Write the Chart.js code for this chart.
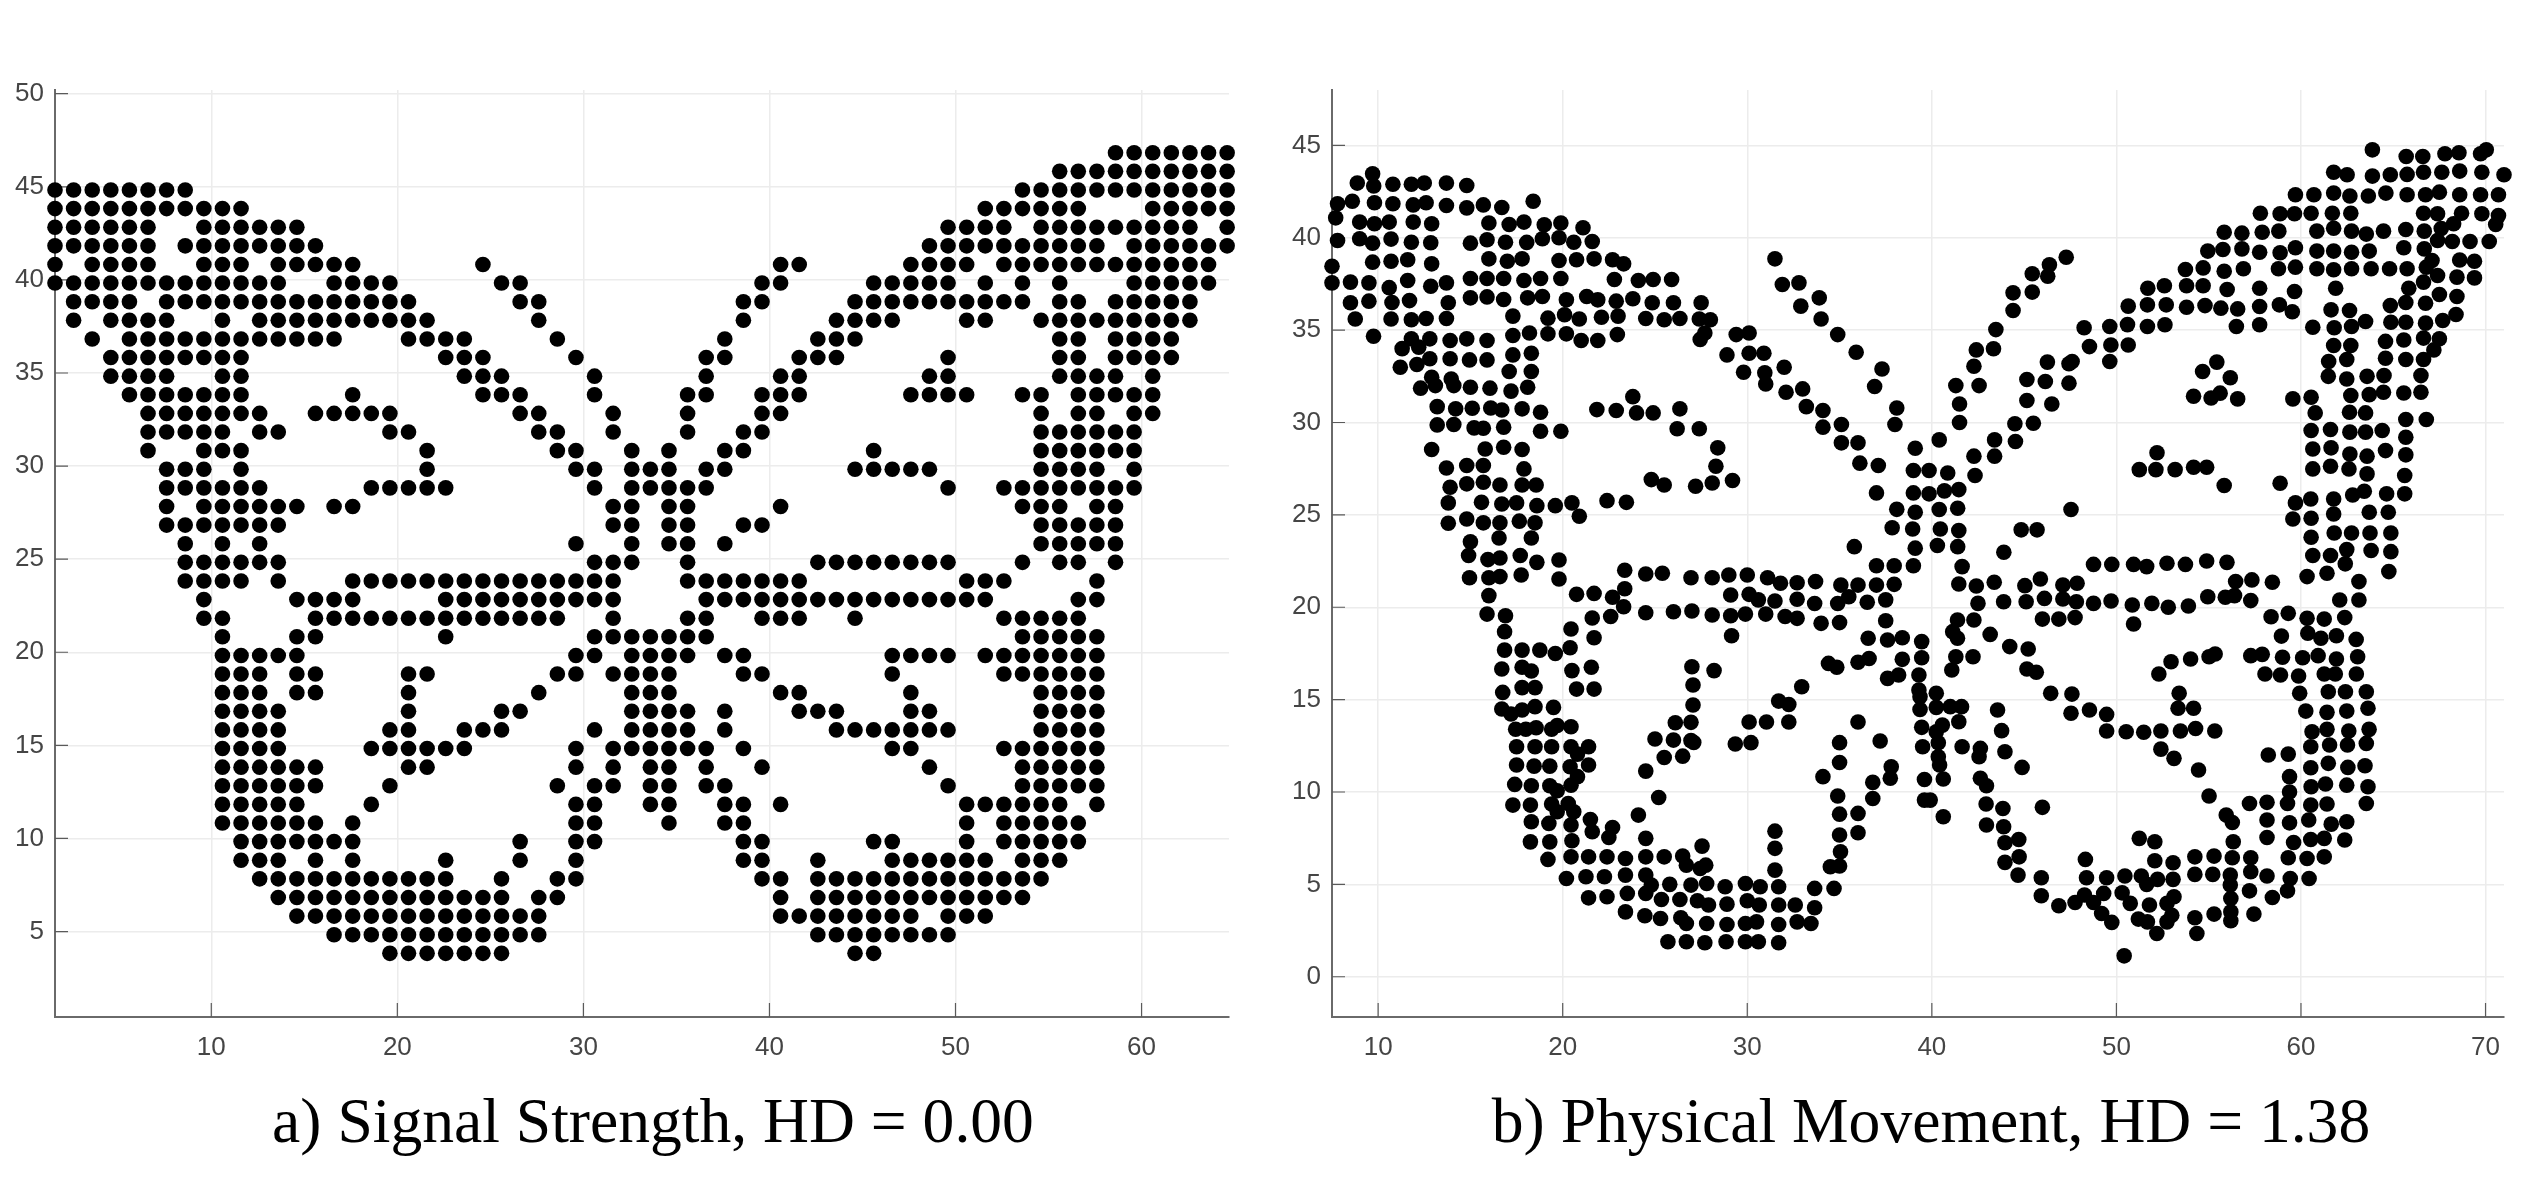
<!DOCTYPE html>
<html>
<head>
<meta charset="utf-8">
<title>Butterfly</title>
<script src="https://cdn.jsdelivr.net/npm/chart.js@4/dist/chart.umd.min.js"></script>
<style>
html, body { margin:0; padding:0; background:#fff; width:2539px; height:1191px; overflow:hidden; }
canvas { position:absolute; top:0; }
.caption { position:absolute; top:1085px; font-family:"Liberation Serif", serif; font-size:63.6px; line-height:72px; color:#000; white-space:nowrap; transform:translateX(-50%); }
</style>
</head>
<body>
<canvas id="leftChart" width="1270" height="1100" style="left:0"></canvas>
<canvas id="rightChart" width="1269" height="1100" style="left:1270px"></canvas>
<div class="caption" style="left:653px">a) Signal Strength, HD = 0.00</div>
<div class="caption" style="left:1931px">b) Physical Movement, HD = 1.38</div>
<script>
const leftXTicks = [10,20,30,40,50,60];
const leftYTicks = [5,10,15,20,25,30,35,40,45,50];
const rightXTicks = [10,20,30,40,50,60,70];
const rightYTicks = [0,5,10,15,20,25,30,35,40,45];

// left panel sits on a grid: row numbers, and filled column runs (from,to,...) per row
const leftRows = [47,46,45,44,43,42,41,40,39,38,37,36,35,34,33,32,31,30,29,28,27,26,25,24,23,22,21,20,19,18,17,16,15,14,13,12,11,10,9,8,7,6,5,4];
const leftRuns = [
  [58,64],
  [55,64],
  [1,8, 53,64],
  [1,11, 51,56, 60,64],
  [1,6, 9,14, 49,52, 54,62, 64,64],
  [1,6, 8,15, 48,57, 59,64],
  [1,1, 3,6, 9,11, 13,17, 24,24, 40,41, 47,50, 52,63],
  [1,13, 16,19, 25,26, 39,40, 45,49, 51,51, 53,53, 55,55, 59,63],
  [2,5, 7,20, 26,27, 38,39, 44,53, 55,56, 58,62],
  [2,2, 4,7, 10,10, 12,21, 27,27, 38,38, 43,46, 50,51, 54,62],
  [3,3, 5,16, 20,23, 28,28, 37,37, 42,44, 55,56, 58,61],
  [4,11, 22,24, 29,29, 36,37, 41,43, 49,49, 55,56, 58,61],
  [4,7, 10,11, 23,25, 30,30, 36,36, 40,41, 48,49, 55,58, 60,60],
  [5,11, 17,17, 24,26, 30,30, 35,36, 39,41, 47,50, 53,54, 56,60],
  [6,12, 15,19, 26,27, 31,31, 35,35, 39,40, 54,54, 56,57, 59,60],
  [6,10, 12,13, 19,20, 27,28, 31,31, 35,35, 38,39, 54,59],
  [6,6, 9,11, 21,21, 28,29, 32,32, 34,34, 37,38, 45,45, 54,59],
  [7,9, 11,11, 21,21, 29,30, 32,34, 36,37, 44,48, 54,57, 59,59],
  [7,12, 18,22, 30,30, 32,36, 49,49, 52,59],
  [7,7, 9,14, 16,17, 31,32, 34,35, 40,40, 53,55, 57,58],
  [7,13, 31,32, 34,35, 38,39, 54,58],
  [8,8, 10,10, 12,12, 29,29, 32,32, 34,35, 37,37, 54,58],
  [8,13, 30,32, 35,35, 42,49, 53,53, 55,56, 58,58],
  [8,11, 13,13, 17,31, 35,41, 50,52, 57,57],
  [9,9, 14,17, 22,31, 36,51, 56,57],
  [9,10, 15,28, 31,31, 35,36, 39,41, 44,44, 52,56],
  [10,10, 14,15, 22,22, 30,36, 53,57],
  [10,14, 29,30, 32,35, 37,38, 46,49, 51,57],
  [10,12, 14,15, 20,21, 28,29, 31,34, 38,39, 46,46, 52,57],
  [10,12, 14,15, 20,20, 27,27, 32,34, 40,41, 47,47, 54,57],
  [10,13, 20,20, 25,26, 32,35, 37,37, 41,43, 47,48, 54,57],
  [10,13, 19,20, 23,25, 30,30, 32,35, 37,37, 43,49, 54,57],
  [10,13, 18,23, 29,29, 31,36, 38,38, 46,47, 52,57],
  [10,15, 20,21, 29,29, 31,31, 33,34, 36,36, 39,39, 48,48, 53,57],
  [10,15, 19,19, 28,28, 30,31, 33,34, 36,37, 49,49, 53,57],
  [10,14, 18,18, 29,30, 33,34, 37,38, 40,40, 50,55, 57,57],
  [10,15, 17,17, 29,30, 34,34, 37,38, 50,50, 52,56],
  [11,17, 26,26, 29,30, 38,39, 45,46, 50,50, 52,56],
  [11,13, 15,15, 17,17, 22,22, 26,26, 29,29, 38,39, 42,42, 46,51, 53,55],
  [12,22, 25,25, 28,29, 39,40, 42,54],
  [13,25, 27,28, 40,40, 42,53],
  [14,27, 40,47, 49,51],
  [16,27, 42,49],
  [19,25, 44,45]
];
// the picture's grid sits slightly off the ticks
const leftColShift = 0.6;
const leftRowShift = -0.17;

// right panel: values
const rightPoints = [
[9.7,43.46],[8.87,42.96],[9.76,42.8],[10.8,42.9],[11.8,42.9],[12.5,42.96],[13.7,42.96],[14.8,42.83],
[7.8,41.84],[8.6,41.98],[9.8,41.9],[10.8,41.84],[11.9,41.78],[12.6,41.9],[13.7,41.75],[14.8,41.62],[15.7,41.78],[16.7,41.64],[18.4,41.98],
[7.7,41.08],[9,40.85],[9.8,40.76],[10.6,40.85],[11.9,40.85],[12.9,40.76],[16,40.8],[17.1,40.72],[17.9,40.85],[19,40.7],[19.9,40.8],[21.1,40.54],
[7.8,39.85],[9,39.95],[9.7,39.71],[10.7,39.93],[11.8,39.76],[12.85,39.73],[15,39.71],[15.9,39.89],[16.9,39.76],[18.05,39.75],[18.9,39.95],[19.8,40],[20.6,39.76],[21.6,39.8],
[7.5,38.46],[9.7,38.68],[10.7,38.73],[11.6,38.81],[12.9,38.59],[16,38.86],[17,38.73],[17.8,38.86],[19.8,38.77],[20.75,38.81],[21.7,38.86],[22.7,38.81],[23.3,38.59],[31.5,38.86],
[7.5,37.56],[8.5,37.6],[9.5,37.56],[10.6,37.3],[11.6,37.69],[12.85,37.38],[13.7,37.56],[15,37.8],[15.9,37.8],[16.8,37.8],[17.9,37.69],[18.8,37.8],[19.9,37.8],[22.8,37.74],[24.1,37.69],[24.9,37.74],[25.9,37.74],[31.9,37.47],[32.8,37.56],[32.9,36.3],[33.9,36.75],
[8.5,36.48],[9.5,36.57],[10.75,36.5],[11.7,36.6],[13.8,36.48],[15,36.75],[15.9,36.8],[16.8,36.66],[18.1,36.75],[18.9,36.82],[20.2,36.64],[21.3,36.82],[21.9,36.64],[22.9,36.57],[23.8,36.7],[24.85,36.48],[26,36.48],[27.5,36.48],
[8.76,35.6],[10.7,35.6],[11.8,35.56],[12.6,35.63],[13.7,35.63],[17.3,35.76],[19.2,35.65],[20.1,35.83],[20.9,35.6],[22.1,35.7],[23,35.76],[24.5,35.63],[25.5,35.56],[26.35,35.63],[27.4,35.6],[28,35.56],[34,35.6],
[9.75,34.67],[17.3,34.71],[18.2,34.85],[19.2,34.8],[20.2,34.8],[21,34.44],[21.9,34.44],[22.96,34.76],[27.7,34.85],[27.45,34.5],[29.4,34.76],[30.1,34.85],[34.9,34.76],
[11.8,34.53],[12.8,34.53],[13.9,34.44],[14.8,34.53],[15.9,34.44],[11.3,34],[12.2,34.08],[17.3,33.66],[18.3,33.75],[12.8,33.45],[13.9,33.45],[14.95,33.39],[15.9,33.39],[28.9,33.66],[30.1,33.75],[30.9,33.75],[35.9,33.8],
[11.2,32.99],[12.1,33.14],[17.1,32.76],[18.3,32.76],[29.8,32.72],[30.95,32.69],[32,32.99],[37.3,32.9],[12.9,32.45],[13.96,32.36],[12.3,31.86],[13.1,32],[14.1,32],[15,31.91],[16.06,31.86],[17.2,31.7],[18.1,31.91],[31,32.09],[32.1,31.64],[33,31.82],[36.9,31.95],[23.8,31.4],
[13.2,30.86],[14.2,30.74],[15.1,30.77],[16.1,30.79],[16.7,30.68],[17.8,30.74],[18.8,30.56],[21.85,30.7],[22.9,30.65],[24,30.52],[24.9,30.52],[26.35,30.74],[33.2,30.86],[34.1,30.65],[38.1,30.79],
[13.2,29.87],[14.1,29.89],[15.2,29.71],[15.7,29.69],[16.8,29.75],[18.8,29.53],[19.9,29.53],[26.2,29.66],[27.4,29.66],[34.1,29.75],[35.1,29.89],[38,29.89],
[12.9,28.54],[15.8,28.57],[16.8,28.66],[17.8,28.54],[28.4,28.63],[35.1,28.9],[36,28.9],[39.1,28.61],
[13.7,27.54],[14.8,27.67],[15.7,27.67],[17.9,27.49],[28.3,27.63],[36.1,27.8],[37.1,27.67],[39,27.4],[39.85,27.4],
[13.9,26.5],[14.8,26.68],[15.7,26.77],[16.6,26.62],[17.8,26.62],[18.56,26.62],[24.8,26.91],[25.5,26.62],[27.2,26.55],[28.1,26.73],[29.2,26.86],[37,26.19],[39,26.19],[39.85,26.14],
[13.8,25.65],[15.6,25.68],[16.7,25.59],[17.5,25.65],[18.6,25.5],[19.6,25.5],[20.5,25.65],[22.4,25.77],[23.45,25.68],[38.1,25.3],[20.9,24.93],[39.1,25.14],
[13.8,24.55],[14.8,24.78],[15.7,24.57],[16.6,24.57],[17.65,24.66],[18.5,24.57],[37.85,24.3],[38.96,24.24],
[15,23.55],[16.55,23.75],[18.3,23.75],[35.8,23.28],[39.1,23.2],[14.9,22.8],[15.95,22.58],[16.6,22.67],[17.7,22.8],[18.6,22.43],[19.8,22.56],[37,22.25],[37.96,22.25],[39,22.25],
[14.95,21.6],[16,21.6],[16.6,21.66],[17.75,21.75],[19.8,21.53],[23.36,22],[24.5,21.8],[25.4,21.84],[26.95,21.6],[28.1,21.6],[29,21.75],[30,21.75],[31.1,21.6],[31.8,21.3],[32.7,21.33],[33.7,21.39],[35.07,21.2],[36,21.2],[37,21.2],[37.96,21.24],[23.36,21],
[16,20.63],[20.75,20.7],[21.7,20.75],[22.7,20.54],[29.1,20.66],[30.1,20.7],[30.6,20.4],[31.5,20.34],[32.7,20.43],[33.65,20.2],[34.9,20.2],[35.5,20.57],[36.5,20.27],[37.5,20.4],
[15.9,19.63],[16.9,19.54],[23.3,20.03],[22.6,19.5],[21.6,19.42],[24.5,19.7],[26,19.76],[27,19.8],[28.1,19.58],[29.1,19.54],[29.9,19.63],[31,19.63],[32.05,19.5],[32.7,19.4],[34,19.13],[35,19.17],[37.5,19.27],
[16.85,18.68],[20.45,18.82],[21.7,18.35],[29.15,18.46],[36.55,18.32],[37.6,18.23],[38.4,18.35],[39.45,18.14],
[16.85,17.68],[17.8,17.68],[18.76,17.68],[19.6,17.5],[20.4,17.81],[34.4,16.96],[34.85,16.75],[36,17.02],[36.6,17.23],[38.4,17.18],[39.45,17.27],
[16.7,16.66],[17.8,16.75],[18.3,16.55],[20.5,16.57],[21.55,16.75],[27,16.78],[28.2,16.57],[37.6,16.15],[38.2,16.33],[39.3,16.33],
[16.75,15.39],[17.8,15.65],[18.5,15.65],[20.75,15.57],[21.7,15.57],[27.06,15.79],[32.95,15.7],[39.3,15.52],[39.36,15.16],
[16.7,14.49],[17.2,14.22],[17.8,14.44],[18.5,14.62],[19.5,14.58],[27.06,14.71],[31.7,14.92],[32.25,14.74],[39.36,14.47],
[17.45,13.4],[18,13.4],[18.56,13.48],[19.4,13.4],[19.7,13.6],[20.45,13.53],[26.1,13.75],[26.95,13.77],[30.1,13.79],[31.04,13.79],[32.25,13.79],[36,13.79],[39.45,13.5],
[17.5,12.45],[18.5,12.45],[19.4,12.45],[20.45,12.45],[21.4,12.45],[25,12.87],[26,12.81],[26.95,12.78],[27.1,12.68],[29.35,12.6],[30.2,12.67],[35,12.67],[37.2,12.76],[39.5,12.45],
[20.8,12.05],[25.5,11.87],[26.5,11.94],[17.5,11.46],[18.45,11.4],[19.3,11.4],[20.4,11.37],[21.4,11.46],[24.5,11.13],[35,11.6],[37.8,11.37],
[34.1,10.83],[20.8,10.83],[17.4,10.41],[18.3,10.34],[19.3,10.34],[20.45,10.37],[19.7,10.07],[37.75,10.74],[36.8,10.52],[39.6,10.68],
[17.3,9.29],[18.25,9.29],[19.4,9.35],[20.3,9.38],[25.2,9.7],[34.9,9.78],[36.8,9.65],[39.6,9.56],
[19.7,8.93],[20.6,8.93],[18.3,8.39],[19.25,8.3],[20.45,8.21],[21.5,8.51],[24.1,8.75],[35,8.8],[36,8.84],
[21.6,7.85],[22.7,8.08],[22.5,7.54],[31.5,7.88],[35,7.67],[36,7.79],[18.25,7.3],[19.3,7.3],[20.5,7.36],[24.5,7.49],[27.55,7.07],[31.5,6.95],
[19.2,6.35],[20.45,6.49],[21.4,6.49],[22.4,6.49],[23.4,6.4],[24.5,6.49],[25.5,6.49],[26.5,6.53],[26.7,6.04],[27.45,5.86],[27.75,6.04],[35.05,6.76],[34.5,5.95],[35,5.99],[31.5,5.77],
[20.2,5.32],[21.26,5.41],[22.26,5.41],[23.4,5.5],[24.5,5.5],[24.8,4.96],[25.8,5],[26.95,4.96],[27.8,5.05],[28.8,4.87],[29.9,5.05],[30.7,4.87],[31.7,4.87],[33.65,4.78],[34.7,4.78],
[21.4,4.27],[22.4,4.33],[23.5,4.51],[24.5,4.51],[25.35,4.18],[26.35,4.18],[27.3,4.11],[27.9,3.88],[28.9,3.93],[30,4.11],[30.65,3.88],[31.7,3.88],[32.6,3.88],[33.65,3.73],
[23.4,3.51],[24.45,3.3],[25.3,3.15],[26.4,3.19],[26.7,2.88],[27.8,2.88],[28.9,2.83],[29.9,2.88],[30.5,2.97],[31.7,2.83],[32.7,2.97],[33.45,2.88],
[25.7,1.89],[26.7,1.89],[27.7,1.84],[28.85,1.89],[29.9,1.89],[30.6,1.89],[31.7,1.84],
[63.87,44.76],[65.7,44.4],[66.6,44.4],[67.8,44.55],[68.56,44.6],[69.73,44.55],[70.04,44.76],
[61.77,43.55],[62.5,43.41],[63.87,43.34],[64.84,43.41],[65.75,43.43],[66.64,43.55],[67.63,43.55],[68.6,43.61],[69.8,43.55],[71,43.41],
[59.7,42.33],[60.7,42.33],[61.77,42.42],[62.65,42.26],[63.65,42.26],[64.6,42.42],[65.75,42.33],[66.75,42.33],[67.5,42.47],[68.6,42.33],[69.73,42.33],[70.7,42.33],
[57.8,41.33],[58.87,41.3],[59.65,41.3],[60.55,41.33],[61.7,41.33],[62.7,41.33],[66.64,41.33],[67.4,41.3],[68.7,41.33],[69.8,41.3],[70.7,41.2],[70.55,40.72],[68.27,40.76],
[55.84,40.3],[56.8,40.25],[57.9,40.3],[58.8,40.36],[60.86,40.36],[61.77,40.52],[62.74,40.36],[63.54,40.2],[64.47,40.36],[65.68,40.45],[66.68,40.36],[67.6,40.5],[67.4,39.85],[68.2,39.8],[69.16,39.8],[70.2,39.8],
[54.95,39.28],[55.77,39.37],[56.8,39.4],[57.76,39.22],[58.87,39.19],[59.7,39.46],[60.86,39.28],[61.77,39.28],[62.74,39.22],[63.7,39.28],[65.57,39.46],[66.68,39.4],
[53.74,38.28],[54.7,38.37],[55.84,38.19],[56.88,38.32],[58.78,38.32],[59.7,38.41],[60.86,38.32],[61.77,38.27],[62.74,38.32],[63.8,38.32],[64.8,38.32],[65.75,38.32],[66.79,38.41],[67.1,38.77],[68.6,38.8],[69.4,38.73],
[51.7,37.27],[52.6,37.4],[53.8,37.4],[54.7,37.4],[56,37.2],[57.76,37.27],[59.65,37.09],[61.88,37.27],[65.84,37.27],[66.64,37.6],[67.4,37.96],[68.45,37.87],[69.4,37.83],
[50.64,36.3],[51.68,36.37],[52.7,36.37],[53.8,36.24],[54.8,36.33],[55.66,36.19],[56.57,36.15],[57.76,36.28],[58.83,36.37],[59.53,36],[61.63,36.1],[62.63,36.06],[64.84,36.33],[65.68,36.5],[66.75,36.46],[67.5,36.93],[68.45,36.82],
[48.25,35.13],[49.64,35.2],[50.6,35.3],[51.68,35.2],[52.63,35.29],[56.5,35.2],[57.76,35.29],[60.64,35.16],[61.8,35.13],[62.74,35.2],[63.5,35.47],[64.87,35.43],[65.68,35.43],[66.75,35.38],[67.68,35.52],[68.4,35.85],
[48.54,34.11],[49.7,34.2],[50.64,34.2],[61.77,34.17],[62.7,34.17],[64.58,34.39],[65.57,34.47],[66.64,34.57],[67.5,34.53],[67.2,33.93],
[49.64,33.3],[61.5,33.3],[62.48,33.41],[64.58,33.48],[65.68,33.41],[66.64,33.41],[61.48,32.5],[62.48,32.36],[63.58,32.5],[64.5,32.54],[66.5,32.54],
[62.7,31.46],[63.7,31.51],[64.47,31.64],[65.57,31.6],[66.5,31.64],[59.56,31.28],[60.55,31.37],[60.77,30.52],[62.63,30.56],[63.5,30.52],[65.68,30.16],[66.79,30.16],
[60.55,29.57],[61.6,29.62],[62.65,29.48],[63.5,29.48],[64.4,29.57],[65.68,29.2],[60.64,28.57],[61.63,28.63],[62.65,28.3],[63.58,28.18],[64.58,28.48],[65.68,28.25],
[60.64,27.49],[61.6,27.63],[62.6,27.49],[63.58,27.22],[65.62,27.13],[62.8,26.08],[63.43,26.28],[64.64,26.14],[65.62,26.14],
[59.7,25.65],[60.53,25.86],[61.77,25.86],[61.77,25.05],[63.7,25.14],[64.73,25.14],[59.56,24.78],[60.55,24.82],
[61.8,24.02],[62.74,24.02],[63.74,24.02],[64.87,24.02],[60.55,23.79],[62.48,23.12],[63.8,23.07],[64.87,23.01],[60.64,22.8],[61.6,22.8],[62.4,22.35],
[47.28,38.95],[46.37,38.54],[46.28,37.92],[45.44,38.05],[45.44,37.06],[44.4,37.02],[44.4,36.06],[43.47,35.03],[43.34,33.99],[42.41,33.93],[42.28,33.05],[41.3,32],[42.56,32],[41.5,31],[41.5,30],
[46.26,33.27],[47.43,33.18],[47.6,33.3],[45.15,32.33],[46.15,32.22],[47.43,32.13],[45.15,31.19],[46.5,31],[44.5,29.93],[45.5,29.96],[43.4,29.06],[44.53,28.97],[42.28,28.18],[43.4,28.18],[42.34,27.13],
[40.4,29.06],[40.86,27.27],[40.68,26.3],[41.46,26.37],[40.4,25.29],[41.4,25.36],[47.54,25.29],[40.46,24.24],[41.46,24.15],[44.84,24.19],[45.7,24.19],[40.3,23.34],[41.4,23.28],[43.9,22.98],
[58.87,26.71],[55.84,26.59],[52.2,28.36],[51.24,27.45],[52.14,27.45],[53.18,27.45],[54.18,27.58],[54.89,27.58],
[55.44,33.27],[54.67,32.76],[56.17,32.42],[54.18,31.42],[55.13,31.33],[55.62,31.59],[56.57,31.28],
[48.76,22.32],[49.75,22.32],[50.93,22.32],[51.64,22.2],[52.74,22.38],[53.74,22.32],[54.89,22.5],[55.99,22.43],[41.64,22.2],
[56.46,21.39],[57.34,21.48],[58.45,21.35],[45.88,21.53],[41.46,21.26],[42.41,21.15],[43.38,21.35],[45.04,21.17],[47.1,21.2],[47.87,21.3],
[54.95,20.57],[55.9,20.54],[56.4,20.63],[57.28,20.36],[42.5,20.21],[43.89,20.3],[45.11,20.3],[46.1,20.48],[47.1,20.45],[47.83,20.3],[48.76,20.21],[49.71,20.34],[50.86,20.12],[51.92,20.21],[52.81,20],[53.9,20.07],
[60.33,21.66],[61.41,21.84],[63.14,21.39],[64.76,21.93],[62.1,20.39],[63.14,20.39],
[41.39,19.31],[42.28,19.31],[45.99,19.36],[46.88,19.36],[47.76,19.44],[50.93,19.09],[58.38,19.49],[59.31,19.67],[60.33,19.4],[61.26,19.36],[62.37,19.44],
[41.13,18.68],[41.39,18.32],[43.16,18.53],[58.94,18.44],[60.37,18.59],[61.08,18.32],[61.92,18.46],[62.99,18.26],[44.22,17.87],[45.22,17.74],
[41.3,17.32],[42.23,17.32],[52.96,17.05],[54.02,17.2],[55.02,17.32],[55.35,17.47],[57.28,17.38],[57.9,17.45],[59,17.29],[60.09,17.27],[60.93,17.38],[61.92,17.2],[63.07,17.32],
[41.08,16.6],[45.15,16.66],[45.66,16.48],[52.3,16.39],[58.05,16.39],[58.89,16.33],[59.87,16.28],[61.26,16.39],[61.86,16.39],[63,16.39],
[40.24,15.34],[46.44,15.34],[47.59,15.3],[53.4,15.34],[59.93,15.34],[61.48,15.43],[62.41,15.43],[63.54,15.43],
[40.24,14.58],[41,14.62],[41.61,14.62],[43.56,14.44],[47.54,14.26],[48.54,14.44],[49.47,14.2],[53.34,14.53],[54.18,14.53],[60.26,14.38],[61.41,14.31],[62.48,14.38],[63.63,14.53],
[40.57,13.62],[40.24,13.26],[41.46,13.8],[43.78,13.32],[49.47,13.3],[50.53,13.26],[51.48,13.23],[52.41,13.3],[53.47,13.3],[54.29,13.44],[55.33,13.3],[60.6,13.26],[61.41,13.39],[62.59,13.3],[63.69,13.39],
[40.35,12.67],[41.64,12.45],[42.63,12.36],[43.96,12.18],[52.41,12.32],[60.53,12.45],[61.55,12.54],[62.52,12.54],[63.54,12.63],
[40.35,11.91],[42.56,11.91],[53.12,11.82],[58.23,12],[59.31,12.05],[40.42,11.46],[44.89,11.33],[54.45,11.19],[60.53,11.31],[61.48,11.55],[62.54,11.33],[63.47,11.42],
[40.62,10.7],[42.63,10.74],[42.96,10.34],[59.38,10.83],[60.55,10.28],[61.33,10.43],[62.48,10.37],[63.63,10.28],[59.38,10],
[39.91,9.56],[42.94,9.35],[55.02,9.78],[45.99,9.17],[43.85,9.11],[57.21,9.38],[58.16,9.44],[59.27,9.38],[60.53,9.29],[61.41,9.35],[63.54,9.38],
[40.62,8.66],[55.95,8.75],[42.96,8.21],[43.89,8.12],[56.28,8.35],[58.16,8.48],[59.38,8.33],[60.42,8.48],[61.64,8.26],[62.48,8.39],
[43.96,7.25],[44.71,7.43],[51.24,7.49],[52.08,7.31],[56.33,7.31],[58.16,7.54],[59.6,7.27],[60.53,7.43],[61.26,7.49],[62.37,7.4],
[43.96,6.19],[44.73,6.49],[48.32,6.35],[52.08,6.28],[53.07,6.17],[54.25,6.49],[55.29,6.53],[56.28,6.44],[57.28,6.44],[59.31,6.44],[60.33,6.4],[61.26,6.49],
[44.67,5.5],[45.93,5.36],[48.38,5.36],[49.47,5.36],[50.46,5.45],[51.35,5.45],[51.64,5],[52.23,5.27],[53.07,5.27],[54.25,5.54],[55.22,5.54],[56.17,5.5],[57.28,5.68],[58.16,5.45],[59.42,5.32],[60.44,5.32],
[56.17,4.96],[59.27,4.65],[45.93,4.38],[46.88,3.84],[47.76,4.02],[48.27,4.42],[48.76,4.02],[49.31,4.51],[50.31,4.54],[50.75,3.97],[51.79,3.88],[52.74,3.97],[53.12,4.33],[56.2,4.24],[57.21,4.65],[58.45,4.29],
[49.2,3.42],[49.75,2.94],[51.19,3.12],[51.68,2.97],[53,3.33],[52.74,2.97],[52.19,2.34],[54.25,3.19],[54.36,2.34],[55.29,3.39],[56.2,3.51],[56.2,3.03],[57.45,3.39],[50.42,1.13]
];

// inward MATLAB style ticks, chart.js only draws them outward
const innerTicks = {
    id: 'innerTicks',
    beforeDatasetsDraw(chart) {
        const { ctx, chartArea, scales } = chart;
        ctx.save();
        ctx.strokeStyle = '#5a5a5a';
        ctx.lineWidth = 1.2;
        ctx.beginPath();
        scales.x.ticks.forEach(t => {
            const px = scales.x.getPixelForValue(t.value);
            ctx.moveTo(px, chartArea.bottom);
            ctx.lineTo(px, chartArea.bottom - 14);
        });
        scales.y.ticks.forEach(t => {
            const py = scales.y.getPixelForValue(t.value);
            ctx.moveTo(chartArea.left, py);
            ctx.lineTo(chartArea.left + 13, py);
        });
        ctx.stroke();
        ctx.restore();
    }
};

function axis(min, max, ticks, size, pad) {
    return {
        type: 'linear', min: min, max: max,
        afterBuildTicks: s => { s.ticks = ticks.map(v => ({ value: v })); },
        afterFit: s => { if (s.isHorizontal()) s.height = size; else s.width = size; },
        border: { color: '#6a6a6a', width: 2 },
        grid: { color: '#ececec', lineWidth: 1.5, drawTicks: false },
        ticks: {
            autoSkip: false, maxRotation: 0, padding: pad, color: '#454545',
            font: { family: '"Liberation Sans", Arial, sans-serif', size: 26 },
            callback: v => String(v)
        }
    };
}

function drawChart(id, points, xAxis, yAxis, padding) {
    new Chart(document.getElementById(id), {
        type: 'scatter',
        data: { datasets: [{ data: points, backgroundColor: '#000', borderWidth: 0, pointRadius: 7.8, clip: false }] },
        options: {
            responsive: false,
            animation: false,
            layout: { padding: padding },
            plugins: { legend: { display: false }, tooltip: { enabled: false } },
            scales: { x: xAxis, y: yAxis }
        },
        plugins: [innerTicks]
    });
}

const leftPoints = [];
leftRows.forEach((row, i) => {
    const runs = leftRuns[i];
    for (let k = 0; k < runs.length; k += 2) {
        for (let c = runs[k]; c <= runs[k + 1]; c++) {
            leftPoints.push({ x: c + leftColShift, y: row + leftRowShift });
        }
    }
});

drawChart('leftChart', leftPoints,
    axis(1.6, 64.7, leftXTicks, 83, 15),
    axis(0.41, 50.2, leftYTicks, 55, 11),
    { left: 0, right: 41, top: 90, bottom: 0 });

drawChart('rightChart', rightPoints.map(p => ({ x: p[0], y: p[1] })),
    axis(7.5, 71, rightXTicks, 83, 15),
    axis(-2.18, 48, rightYTicks, 62, 11),
    { left: 0, right: 35, top: 90, bottom: 0 });
</script>
</body>
</html>
